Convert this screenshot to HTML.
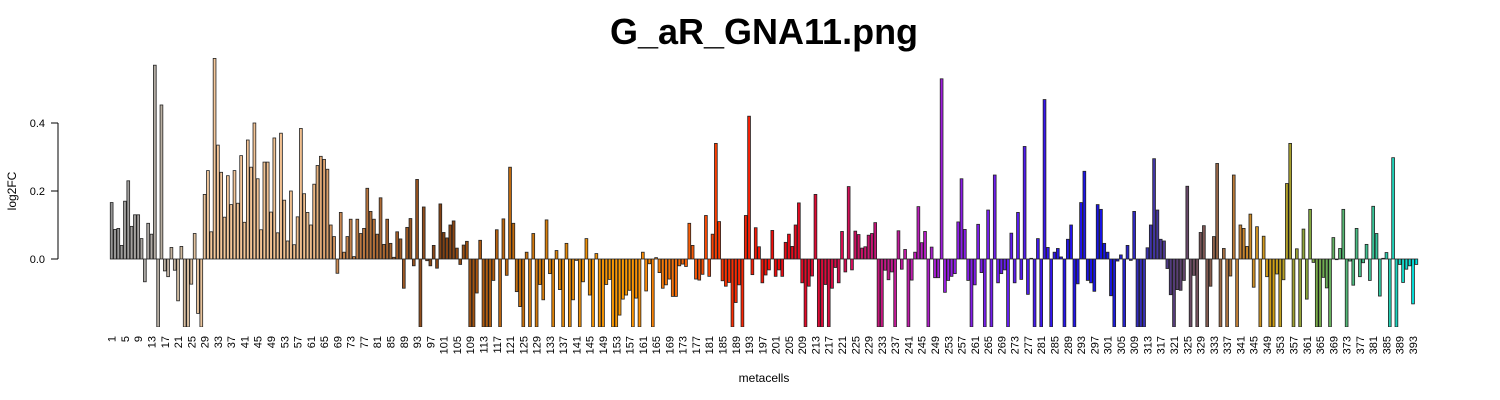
<!DOCTYPE html>
<html><head><meta charset="utf-8"><title>G_aR_GNA11.png</title>
<style>html,body{margin:0;padding:0;background:#fff;}svg{display:block;font-family:"Liberation Sans",Arial,sans-serif;}</style>
</head><body>
<svg id="chart" width="1500" height="400" viewBox="0 0 1500 400" xmlns="http://www.w3.org/2000/svg">
<text x="764" y="44" text-anchor="middle" font-size="36" font-weight="bold" fill="#000">G_aR_GNA11.png</text>
<text transform="translate(16,191) rotate(-90)" text-anchor="middle" font-size="12" fill="#000">log2FC</text>
<text x="764" y="382" text-anchor="middle" font-size="12" fill="#000">metacells</text>
<defs><clipPath id="plotclip"><rect x="100" y="40" width="1330" height="287"/></clipPath></defs>
<g id="yaxis"></g>
<g id="bars" clip-path="url(#plotclip)"></g>
<g id="xlabels"></g>
</svg>
<script>
const values = [
0.166,0.087,0.09,0.04,0.17,0.23,0.096,0.13,0.13,0.06,-0.067,0.105,0.073,0.57,-0.2,0.453,-0.035,-0.052,0.034,-0.033,
-0.123,0.037,-0.2,-0.2,-0.074,0.075,-0.16,-0.2,0.19,0.26,0.08,0.59,0.335,0.255,0.123,0.245,0.16,0.26,0.164,0.304,
0.108,0.35,0.27,0.4,0.236,0.086,0.285,0.285,0.138,0.356,0.077,0.37,0.173,0.053,0.2,0.042,0.124,0.384,0.192,0.137,
0.1,0.22,0.275,0.302,0.293,0.264,0.1,0.066,-0.042,0.137,0.02,0.066,0.117,0.007,0.117,0.075,0.09,0.208,0.14,0.117,
0.073,0.18,0.043,0.117,0.046,0.005,0.08,0.059,-0.086,0.093,0.119,-0.02,0.234,-0.2,0.153,-0.005,-0.02,0.04,-0.027,0.162,
0.078,0.062,0.1,0.112,0.032,-0.016,0.041,0.052,-0.2,-0.2,-0.1,0.055,-0.2,-0.2,-0.2,-0.063,0.086,-0.2,0.118,-0.048,
0.27,0.105,-0.096,-0.14,-0.2,0.02,-0.2,0.075,-0.2,-0.075,-0.12,0.115,-0.043,-0.2,0.025,-0.09,-0.2,0.046,-0.2,-0.12,
-0.004,-0.2,-0.067,0.06,-0.106,-0.2,0.016,-0.2,-0.2,-0.075,-0.06,-0.2,-0.2,-0.165,-0.118,-0.106,-0.092,-0.2,-0.115,-0.2,
0.02,-0.094,-0.014,-0.2,0.004,-0.04,-0.086,-0.076,-0.059,-0.11,-0.11,-0.02,-0.015,-0.022,0.105,0.04,-0.059,-0.062,-0.045,0.128,
-0.051,0.073,0.34,0.11,-0.064,-0.08,-0.069,-0.2,-0.128,-0.076,-0.2,0.128,0.42,-0.046,0.092,0.036,-0.07,-0.047,-0.032,0.084,
-0.051,-0.032,-0.051,0.049,0.073,0.037,0.1,0.165,-0.07,-0.2,-0.08,-0.05,0.19,-0.2,-0.2,-0.075,-0.2,-0.086,-0.025,-0.07,
0.081,-0.038,0.213,-0.032,0.082,0.072,0.032,0.036,0.07,0.075,0.107,-0.2,-0.2,-0.033,-0.061,-0.038,-0.2,0.083,-0.03,0.028,
-0.2,-0.062,0.02,0.154,0.048,0.081,-0.2,0.035,-0.055,-0.055,0.53,-0.098,-0.063,-0.051,-0.043,0.109,0.236,0.087,-0.063,-0.2,
-0.076,0.102,-0.04,-0.2,0.144,-0.2,0.247,-0.07,-0.043,-0.032,-0.2,0.076,-0.07,0.137,-0.06,0.331,-0.104,0.002,-0.2,0.06,
-0.2,0.469,0.034,-0.2,0.02,0.031,0.006,-0.2,0.058,0.1,-0.2,-0.073,0.166,0.258,-0.063,-0.07,-0.095,0.16,0.146,0.046,
0.02,-0.108,-0.2,-0.006,0.012,-0.2,0.04,-0.004,0.14,-0.2,-0.2,-0.2,0.033,0.1,0.295,0.144,0.058,0.053,-0.028,-0.105,
-0.2,-0.09,-0.092,-0.063,0.214,-0.2,-0.048,-0.2,0.078,0.098,-0.2,-0.08,0.066,0.281,-0.2,0.031,-0.2,-0.05,0.247,-0.2,
0.1,0.09,0.037,0.132,-0.083,0.095,-0.2,0.067,-0.052,-0.2,-0.2,-0.044,-0.2,-0.061,0.222,0.34,-0.2,0.03,-0.2,0.088,
-0.118,0.146,-0.01,-0.2,-0.2,-0.054,-0.085,-0.2,0.063,-0.002,0.031,0.146,-0.2,-0.006,-0.077,0.09,-0.052,-0.011,0.043,-0.063,
0.155,0.075,-0.109,0.002,0.019,-0.2,0.298,-0.2,-0.016,-0.069,-0.03,-0.02,-0.132,-0.016
];
const yTicks = [0.0, 0.2, 0.4];
const yTickLabels = ["0.0", "0.2", "0.4"];

const NS = "http://www.w3.org/2000/svg";
const n = values.length;
const plotLeft = 110, plotRight = 1418;
const slot = (plotRight - plotLeft) / n;
const barW = slot / 1.2;
function xCenter(i) { return plotLeft + slot * (i + 0.5); }
function yScale(v) { return 259 - v * 340; }

const stops = [
 [0,[150,150,150]],[12,[175,170,165]],[20,[205,185,160]],[30,[245,200,155]],[60,[240,190,140]],
 [68,[205,140,85]],[85,[165,95,40]],[100,[130,65,20]],[112,[175,90,15]],[135,[225,135,10]],
 [155,[255,155,0]],[170,[245,110,10]],[185,[255,50,0]],[200,[240,10,10]],[215,[220,10,60]],
 [230,[200,20,120]],[242,[190,30,180]],[252,[150,30,230]],[270,[100,30,240]],[285,[40,20,240]],
 [300,[20,20,230]],[312,[60,50,180]],[320,[85,60,120]],[330,[130,90,80]],[340,[200,130,50]],
 [350,[210,160,20]],[356,[160,160,50]],[363,[120,170,70]],[370,[90,180,110]],[382,[50,200,160]],[393,[0,225,225]]
];
function colorAt(i) {
  for (let k = 0; k < stops.length - 1; k++) {
    const [a, ca] = stops[k], [b, cb] = stops[k + 1];
    if (i <= b) {
      const t = Math.max(0, (i - a) / (b - a));
      return "rgb(" + ca.map((c, j) => Math.round(c + (cb[j] - c) * t)).join(",") + ")";
    }
  }
  const c = stops[stops.length - 1][1];
  return "rgb(" + c.join(",") + ")";
}

const barsG = document.getElementById("bars");
values.forEach((v, i) => {
  const r = document.createElementNS(NS, "rect");
  const y0 = yScale(0), y1 = yScale(v);
  r.setAttribute("x", (xCenter(i) - barW / 2).toFixed(2));
  r.setAttribute("y", Math.min(y0, y1).toFixed(2));
  r.setAttribute("width", barW.toFixed(2));
  r.setAttribute("height", Math.max(0.5, Math.abs(y1 - y0)).toFixed(2));
  r.setAttribute("fill", colorAt(i));
  r.setAttribute("stroke", "#222");
  r.setAttribute("stroke-width", "0.8");
  
  
  barsG.appendChild(r);
});

const yG = document.getElementById("yaxis");
const axisLine = document.createElementNS(NS, "line");
axisLine.setAttribute("x1", 58); axisLine.setAttribute("x2", 58);
axisLine.setAttribute("y1", yScale(yTicks[0])); axisLine.setAttribute("y2", yScale(yTicks[yTicks.length - 1]));
axisLine.setAttribute("stroke", "#000");


yG.appendChild(axisLine);
yTicks.forEach((t, k) => {
  const tk = document.createElementNS(NS, "line");
  tk.setAttribute("x1", 51); tk.setAttribute("x2", 58);
  tk.setAttribute("y1", yScale(t)); tk.setAttribute("y2", yScale(t));
  tk.setAttribute("stroke", "#000");
  
  
  yG.appendChild(tk);
  const tx = document.createElementNS(NS, "text");
  tx.setAttribute("x", 45); tx.setAttribute("y", yScale(t) + 4);
  tx.setAttribute("text-anchor", "end"); tx.setAttribute("font-size", "11");
  tx.textContent = yTickLabels[k];
  
  
  yG.appendChild(tx);
});

const xG = document.getElementById("xlabels");
for (let i = 0; i < n; i += 4) {
  const tx = document.createElementNS(NS, "text");
  const cx = xCenter(i) + 4;
  tx.setAttribute("transform", "translate(" + cx.toFixed(2) + ",336) rotate(-90)");
  tx.setAttribute("text-anchor", "end");
  tx.setAttribute("font-size", "11");
  tx.textContent = String(i + 1);
  
  
  xG.appendChild(tx);
}
</script>
</body></html>
